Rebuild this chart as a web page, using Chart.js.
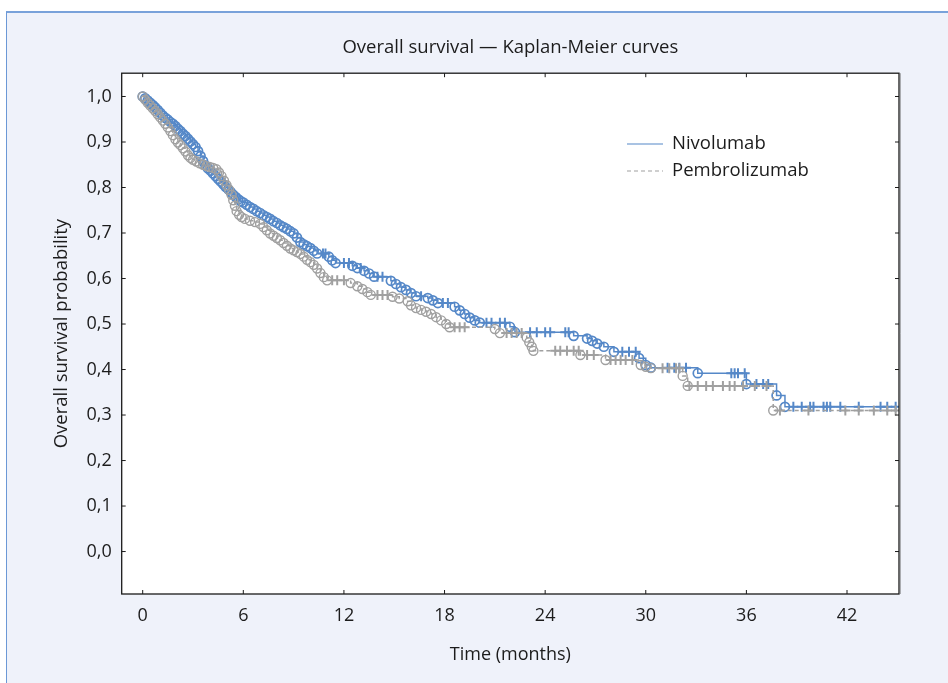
<!DOCTYPE html>
<html>
<head>
<meta charset="utf-8">
<script src="https://cdn.jsdelivr.net/npm/chart.js@4.4.0/dist/chart.umd.min.js"></script>
<style>
  html, body { margin: 0; padding: 0; background: #ffffff; }
  #panel { position: absolute; left: 6px; top: 11px; width: 942px; height: 672px; background: #eff2fa;
           border-top: 2px solid #79a2da; border-left: 1px solid #6b98d6; box-sizing: border-box; }
  #wrap { position: absolute; left: 0; top: 0; width: 948px; height: 683px; }
</style>
</head>
<body>
<div id="panel"></div>
<div id="wrap"><canvas id="kmChart"></canvas></div>
<script>
// Nivolumab: times of deaths (months) and survival after each one, then censored times
const nivoEventT = [0, 0.15, 0.3, 0.45, 0.6, 0.75, 0.9, 1.05, 1.2, 1.35, 1.5, 1.65, 1.8, 1.95, 2.1, 2.25, 2.4, 2.55, 2.7, 2.85,
  3.0, 3.15, 3.3, 3.45, 3.6, 3.75, 3.9, 4.05, 4.2, 4.35, 4.5, 4.65, 4.8, 4.95, 5.1, 5.25, 5.4, 5.55, 5.7, 5.85,
  6.0, 6.2, 6.4, 6.6, 6.8, 7.0, 7.2, 7.4, 7.6, 7.8, 8.0, 8.2, 8.4, 8.6, 8.8, 9.0, 9.2, 9.4, 9.6, 9.8, 10.0, 10.2, 10.4,
  11.1, 11.3, 11.5, 12.5, 12.8, 13.2, 13.5, 13.8, 14.8, 15.1, 15.4, 15.7, 16.0, 16.3, 17.0, 17.3, 17.6,
  18.6, 18.9, 19.2, 19.5, 19.8, 20.1, 21.9, 22.2, 25.7, 26.5, 26.8, 27.1, 27.5, 28.1, 29.6, 30.0, 30.3,
  33.1, 36.0, 37.8, 38.3];
const nivoEventS = [1.000, 0.996, 0.991, 0.986, 0.981, 0.976, 0.970, 0.964, 0.958, 0.953, 0.949, 0.944, 0.940, 0.935, 0.929, 0.924, 0.918, 0.913, 0.907, 0.901,
  0.895, 0.889, 0.880, 0.869, 0.858, 0.848, 0.842, 0.837, 0.831, 0.825, 0.819, 0.813, 0.807, 0.801, 0.796, 0.790, 0.784, 0.779, 0.774, 0.770,
  0.767, 0.762, 0.757, 0.753, 0.748, 0.744, 0.739, 0.735, 0.731, 0.726, 0.722, 0.717, 0.713, 0.709, 0.704, 0.699, 0.690, 0.680, 0.675, 0.671, 0.667, 0.661, 0.655,
  0.648, 0.640, 0.634, 0.628, 0.623, 0.617, 0.611, 0.604, 0.595, 0.588, 0.581, 0.575, 0.568, 0.561, 0.557, 0.552, 0.546,
  0.538, 0.530, 0.522, 0.514, 0.508, 0.503, 0.494, 0.482, 0.474, 0.468, 0.463, 0.457, 0.450, 0.439, 0.425, 0.410, 0.404,
  0.392, 0.368, 0.343, 0.318];
const nivoCensorT = [10.75, 10.9, 12.0, 12.3, 13.0, 14.0, 14.3, 16.6, 17.9, 18.2, 20.5, 20.8, 21.3, 21.6,
  23.1, 23.5, 24.0, 24.3, 25.2, 25.4, 28.6, 29.0, 29.4, 31.3, 31.7, 32.0, 32.4, 35.1, 35.3, 35.5, 35.9,
  36.6, 37.0, 37.3, 38.8, 39.3, 39.8, 40.0, 40.6, 40.8, 41.0, 41.6, 42.7, 44.0, 44.4, 44.9];

// Pembrolizumab
const pembroEventT = [0, 0.15, 0.3, 0.45, 0.6, 0.75, 0.9, 1.05, 1.2, 1.35, 1.5, 1.65, 1.8, 1.95, 2.1, 2.25, 2.4, 2.55, 2.7, 2.85,
  3.0, 3.2, 3.4, 3.6, 3.8, 4.0, 4.2, 4.4, 4.55, 4.7, 4.85, 5.0, 5.15, 5.3, 5.4, 5.5, 5.6, 5.75, 5.9,
  6.1, 6.4, 6.7, 7.0, 7.2, 7.4, 7.6, 7.8, 8.0, 8.2, 8.4, 8.6, 8.8, 9.0, 9.2, 9.4, 9.6, 9.8, 10.0, 10.2, 10.4, 10.6, 10.8, 11.0,
  12.4, 12.8, 13.1, 13.4, 13.6, 14.9, 15.3, 15.8, 16.0, 16.3, 16.6, 16.9, 17.2, 17.5, 17.8, 18.1, 18.3,
  21.0, 21.3, 22.9, 23.05, 23.2, 23.3, 26.1, 27.6, 29.7, 30.0, 30.3, 32.2, 32.5, 37.6];
const pembroEventS = [1.000, 0.993, 0.986, 0.980, 0.974, 0.968, 0.961, 0.954, 0.947, 0.940, 0.932, 0.924, 0.915, 0.906, 0.899, 0.893, 0.886, 0.879, 0.871, 0.865,
  0.861, 0.857, 0.853, 0.850, 0.847, 0.845, 0.843, 0.840, 0.833, 0.825, 0.815, 0.805, 0.795, 0.784, 0.772, 0.760, 0.748, 0.740, 0.735,
  0.731, 0.727, 0.724, 0.720, 0.713, 0.706, 0.699, 0.694, 0.689, 0.684, 0.678, 0.672, 0.666, 0.662, 0.658, 0.654, 0.648, 0.641, 0.636, 0.630, 0.622, 0.612, 0.603, 0.596,
  0.590, 0.583, 0.577, 0.570, 0.564, 0.560, 0.556, 0.550, 0.541, 0.535, 0.531, 0.527, 0.522, 0.515, 0.508, 0.500, 0.493,
  0.489, 0.480, 0.470, 0.460, 0.450, 0.441, 0.432, 0.421, 0.410, 0.406, 0.403, 0.386, 0.364, 0.310];
const pembroCensorT = [11.3, 11.6, 12.0, 14.0, 14.3, 14.6, 18.6, 18.9, 19.2, 21.7, 22.0, 22.3, 22.6,
  24.6, 24.9, 25.3, 25.7, 26.0, 26.5, 26.9, 27.9, 28.2, 28.5, 28.8, 29.2, 31.0, 31.4, 31.8, 32.0,
  32.6, 33.1, 33.6, 34.0, 34.6, 35.0, 35.3, 35.8, 36.5, 37.2, 38.0, 39.7, 41.9, 42.7, 43.6, 44.4, 44.9];

const xTicks = [0, 6, 12, 18, 24, 30, 36, 42];
const yTicks = [0, 0.1, 0.2, 0.3, 0.4, 0.5, 0.6, 0.7, 0.8, 0.9, 1.0];

const blue = "#5588c8";
const gray = "#a0a0a0";
const fontFamily = "'Open Sans', sans-serif";
const textColor = "#1c1c1c";

// step curve: censored marks sit on the current survival level
function buildCurve(eventT, eventS, censorT) {
  const pts = [];
  eventT.forEach((t, i) => pts.push({ x: t, y: eventS[i], mark: "o" }));
  censorT.forEach(t => {
    let s = 1;
    eventT.forEach((et, i) => { if (et <= t) s = eventS[i]; });
    pts.push({ x: t, y: s, mark: "+" });
  });
  pts.sort((a, b) => a.x - b.x);
  return pts;
}

function kmDataset(label, pts, color, dash, order, ringWidth) {
  const isCensor = c => c.raw && c.raw.mark === "+";
  return {
    label,
    data: pts,
    order,
    stepped: true,
    borderColor: color,
    borderWidth: 1.5,
    borderDash: dash,
    fill: false,
    pointStyle: c => isCensor(c) ? "cross" : "circle",
    pointRadius: c => isCensor(c) ? 5 : 4.5,
    pointBorderWidth: c => isCensor(c) ? 2 : ringWidth,
    pointBorderColor: color,
    pointBackgroundColor: "rgba(0,0,0,0)"
  };
}

const plotFrame = {
  id: "plotFrame",
  beforeDraw(chart) {
    const { ctx, chartArea: a } = chart;
    ctx.save();
    ctx.fillStyle = "#ffffff";
    ctx.fillRect(a.left, a.top, a.right - a.left, a.bottom - a.top);
    ctx.restore();
  },
  afterDraw(chart) {
    const { ctx, chartArea: a, scales } = chart;
    ctx.save();
    ctx.strokeStyle = "#1a1a1a";
    ctx.lineWidth = 1.3;
    ctx.strokeRect(a.left, a.top, a.right - a.left, a.bottom - a.top);
    ctx.strokeStyle = "#666666";
    ctx.lineWidth = 1;
    ctx.beginPath();
    ctx.moveTo(a.right + 1, a.top); ctx.lineTo(a.right + 1, a.bottom);
    ctx.stroke();
    ctx.strokeStyle = "#1a1a1a";
    ctx.beginPath();
    scales.x.ticks.forEach(t => {
      const px = scales.x.getPixelForValue(t.value);
      ctx.moveTo(px, a.bottom); ctx.lineTo(px, a.bottom - 4);
      ctx.moveTo(px, a.top); ctx.lineTo(px, a.top + 4);
    });
    scales.y.ticks.forEach(t => {
      const py = scales.y.getPixelForValue(t.value);
      ctx.moveTo(a.left, py); ctx.lineTo(a.left + 4, py);
      ctx.moveTo(a.right, py); ctx.lineTo(a.right - 4, py);
    });
    ctx.stroke();

    // legend
    const rows = [chart.data.datasets[1], chart.data.datasets[0]];
    ctx.font = "18.5px " + fontFamily;
    ctx.textBaseline = "middle";
    ctx.fillStyle = textColor;
    rows.forEach((ds, i) => {
      const y = 144 + i * 27;
      ctx.strokeStyle = ds.borderColor;
      ctx.lineWidth = 1.2;
      ctx.setLineDash(ds.borderDash);
      ctx.beginPath();
      ctx.moveTo(627, y); ctx.lineTo(663, y);
      ctx.stroke();
      ctx.setLineDash([]);
      ctx.fillText(ds.label, 672, y);
    });
    ctx.restore();
  }
};

new Chart(document.getElementById("kmChart"), {
  type: "line",
  data: {
    datasets: [
      kmDataset("Pembrolizumab", buildCurve(pembroEventT, pembroEventS, pembroCensorT), gray, [4, 3], 0, 1.4),
      kmDataset("Nivolumab", buildCurve(nivoEventT, nivoEventS, nivoCensorT), blue, [], 1, 1.7)
    ]
  },
  options: {
    responsive: true,
    maintainAspectRatio: false,
    animation: false,
    layout: { padding: { left: 0, top: 0, right: 49, bottom: 0 } },
    plugins: {
      legend: { display: false },
      tooltip: { enabled: false },
      title: {
        display: true,
        fullSize: false,
        text: "Overall survival — Kaplan-Meier curves",
        color: textColor,
        font: { family: fontFamily, size: 18.5, weight: "normal" },
        padding: { top: 36.5, bottom: 14.5 }
      }
    },
    scales: {
      x: {
        type: "linear",
        min: -1.252,
        max: 45.1,
        afterBuildTicks: s => { s.ticks = xTicks.map(v => ({ value: v })); },
        afterFit: s => { s.height = 89; },
        grid: { display: false, drawTicks: false },
        border: { display: false },
        ticks: { color: textColor, font: { family: fontFamily, size: 18 }, padding: 11, maxRotation: 0, autoSkip: false,
                 callback: v => String(v) },
        title: { display: true, text: "Time (months)", color: textColor,
                 font: { family: fontFamily, size: 18 }, padding: { top: 0, bottom: 17 } }
      },
      y: {
        min: -0.0933,
        max: 1.0512,
        afterBuildTicks: s => { s.ticks = yTicks.map(v => ({ value: v })); },
        afterFit: s => { s.width = 121.7; },
        grid: { display: false, drawTicks: false },
        border: { display: false },
        ticks: { color: textColor, font: { family: fontFamily, size: 18 }, padding: 10, autoSkip: false,
                 callback: v => v.toFixed(1).replace(".", ",") },
        title: { display: true, text: "Overall survival probability", color: textColor,
                 font: { family: fontFamily, size: 18.5 }, padding: { top: 51, bottom: 0 } }
      }
    }
  },
  plugins: [plotFrame]
});
</script>
</body>
</html>
